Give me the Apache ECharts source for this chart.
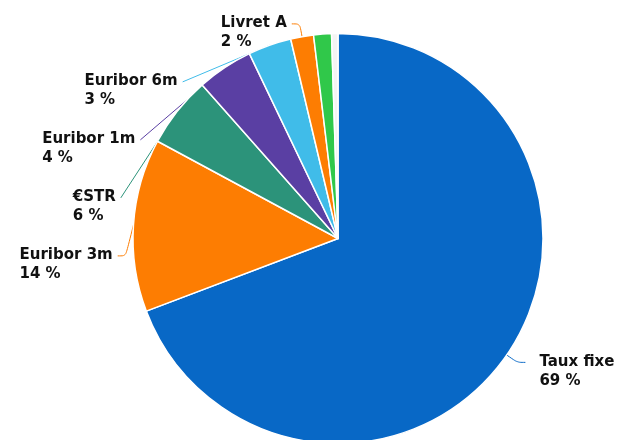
<!DOCTYPE html>
<html>
<head>
<meta charset="utf-8">
<script src="https://cdn.jsdelivr.net/npm/echarts@6/dist/echarts.min.js"></script>
<style>
html,body{margin:0;padding:0;background:#fff;width:621px;height:440px;overflow:hidden;position:relative;}
#chart{position:absolute;left:0;top:-7px;width:660px;height:447px;}
</style>
</head>
<body>
<div id="chart"></div>
<script>
const categories = ['Taux fixe', 'Euribor 3m', '€STR', 'Euribor 1m', 'Euribor 6m', 'Livret A', 'Autres', 'Divers'];
const values = [69.1, 13.6, 5.6, 4.4, 3.4, 1.8, 1.4, 0.5];
const colors = ['#0868c6', '#fd7d02', '#2c937a', '#5a3fa3', '#40bce9', '#fd7d02', '#30c84a', '#f4f4f4'];
const unlabeled = ['Autres', 'Divers'];

const chart = echarts.init(document.getElementById('chart'), null, {renderer: 'canvas'});
const data = categories.map((name, i) => ({
  name: name,
  value: values[i],
  itemStyle: {color: colors[i]},
  label: {show: unlabeled.indexOf(name) < 0, distanceToLabelLine: i === 0 ? 14 : 5},
  labelLine: {show: unlabeled.indexOf(name) < 0}
}));
chart.setOption({
  animation: false,
  series: [{
    type: 'pie',
    center: [338, 245.5],
    radius: 205,
    startAngle: 90,
    clockwise: true,
    avoidLabelOverlap: true,
    itemStyle: {borderColor: '#ffffff', borderWidth: 1.5},
    label: {
      show: true,
      position: 'outside',
      overflow: 'none',
      lineHeight: 18,
      formatter: function (p) {
        return '\n{n|' + p.name + '}\n{n|' + Math.round(p.percent) + ' %}';
      },
      rich: {
        n: {fontFamily: 'DejaVu Sans', fontWeight: 'bold', fontSize: 15, lineHeight: 19, color: '#111111', align: 'left'}
      }
    },
    labelLine: {show: true, length: 13, length2: 8, smooth: true, lineStyle: {width: 1}},
    data: data
  }]
});
</script>
</body>
</html>
